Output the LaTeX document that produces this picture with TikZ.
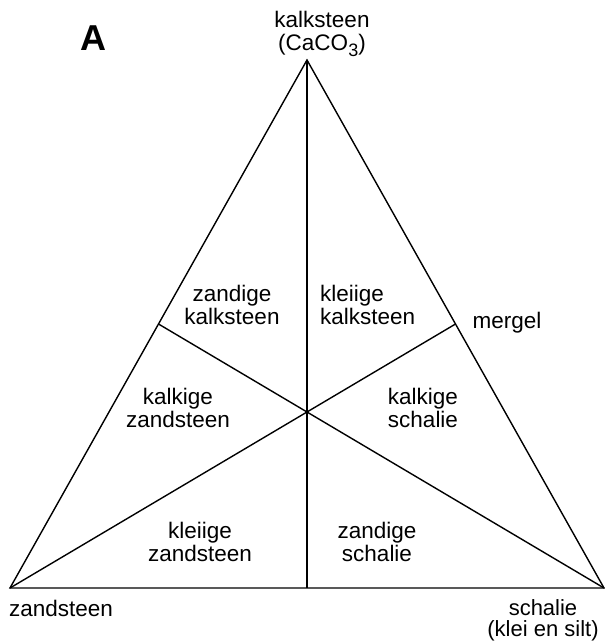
\documentclass[tikz,border=0pt]{standalone}
\usepackage{fontspec}
\setmainfont{Liberation Sans}
\begin{document}
\begin{tikzpicture}[x=1pt,y=-1pt,
  edge/.style={line width=1.4pt},
  lbl/.style={font=\fontsize{22.5}{23}\selectfont, inner sep=0pt, anchor=base, align=center},
  lbll/.style={lbl, align=left, anchor=base west}]
\useasboundingbox (0,0) rectangle (605,641);
% vertices and side midpoints
\coordinate (T) at (307,60);
\coordinate (L) at (10,588);
\coordinate (R) at (604,588);
\coordinate (mB) at (307,588);
\coordinate (mL) at (158.5,324);
\coordinate (mR) at (455.5,324);
% triangle and medians
\draw[edge] (T) -- (L) -- (R) -- cycle;
\draw[edge, line width=1.1pt] (T) -- (mB);
\draw[edge] (L) -- (mR);
\draw[edge] (R) -- (mL);
% panel letter
\node[font=\fontsize{36}{40}\selectfont\bfseries, inner sep=0pt, anchor=base] (A) at (93,50) {A};
% corner labels (anchor base = baseline of the last line)
\node[lbl] (top) at (322,50) {kalksteen\\(CaCO{\fontsize{18}{18}\selectfont\raisebox{-6pt}{3}})};
\node[lbl] (left) at (61,616) {zandsteen};
\node[lbl, font=\fontsize{22}{21}\selectfont] (right) at (543,636) {schalie\\(klei en silt)};
\node[lbl] (merg) at (507,328) {mergel};
% field labels
\node[lbl] (zk) at (232,324) {zandige\\kalksteen};
\node[lbll] (kk) at (320,324) {kleiige\\kalksteen};
\node[lbl] (kz) at (178,427) {kalkige\\zandsteen};
\node[lbl] (ks) at (423,427) {kalkige\\schalie};
\node[lbl] (klz) at (200,561) {kleiige\\zandsteen};
\node[lbl] (zs) at (377,561) {zandige\\schalie};
\end{tikzpicture}
\end{document}
